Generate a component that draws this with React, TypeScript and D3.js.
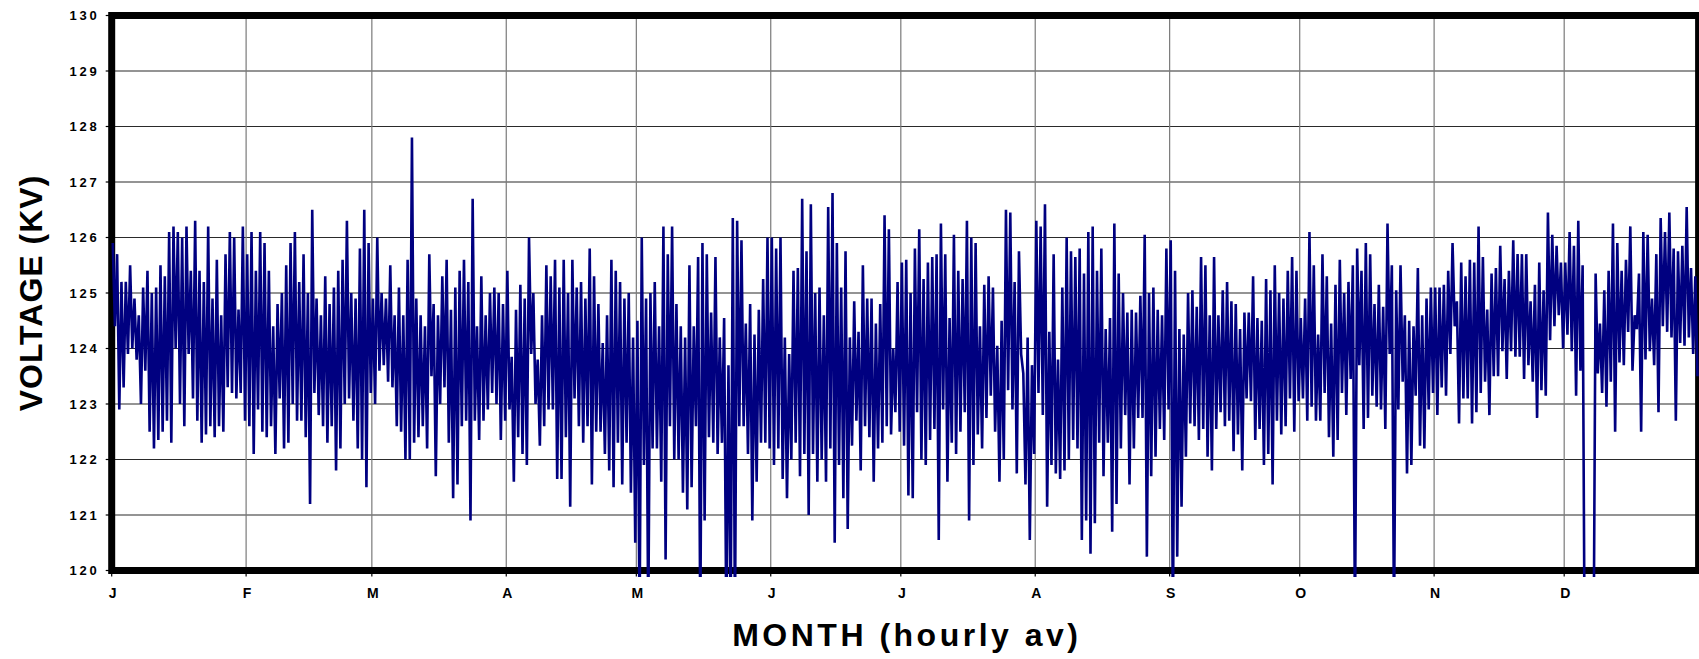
import * as d3 from "d3";
import React, { Component } from "react";

const months = ["J", "F", "M", "A", "M", "J", "J", "A", "S", "O", "N", "D"];
const yTicks = [120, 121, 122, 123, 124, 125, 126, 127, 128, 129, 130];

// daily high / low of the hourly averages (kV)
const janHi = [125.9, 125.7, 125.2, 125.2, 125.5, 124.9, 124.6, 125.1, 125.4, 125.0, 125.1, 125.5, 125.3, 126.1, 126.2, 126.1, 126.0, 126.2, 125.4, 126.3, 125.4, 125.2, 126.2, 124.9, 125.6, 124.6, 125.7, 126.1, 126.0, 124.7, 126.2];
const janLo = [124.4, 122.9, 123.3, 123.9, 124.0, 123.8, 123.0, 123.6, 122.5, 122.2, 122.35, 122.5, 122.7, 122.3, 124.0, 123.0, 122.6, 123.9, 123.1, 122.7, 122.3, 122.45, 122.6, 122.4, 122.6, 122.5, 123.3, 123.2, 123.1, 123.2, 122.7];
const febHi = [125.7, 126.1, 125.4, 126.1, 125.9, 125.4, 124.4, 124.8, 125.0, 125.5, 125.9, 126.1, 125.2, 125.7, 125.0, 126.5, 124.9, 124.6, 125.3, 124.8, 125.1, 125.4, 125.6, 126.3, 125.0, 124.9, 125.8, 126.5, 125.9];
const febLo = [122.6, 122.1, 122.9, 122.5, 122.4, 122.6, 122.1, 123.1, 122.2, 122.3, 123.0, 122.7, 122.7, 122.4, 121.2, 123.2, 122.8, 122.6, 122.3, 122.6, 121.8, 122.2, 123.0, 123.1, 122.7, 122.2, 122.0, 121.5, 123.2];
const marHi = [124.9, 126.0, 125.0, 124.9, 125.5, 124.6, 125.1, 124.6, 125.6, 127.8, 124.9, 124.6, 124.4, 125.7, 124.8, 124.6, 125.3, 125.6, 124.7, 125.1, 125.4, 125.6, 125.2, 126.7, 124.4, 125.3, 124.6, 125.0, 125.1, 125.0, 124.8];
const marLo = [123.0, 123.6, 123.7, 123.4, 123.3, 122.6, 122.5, 122.0, 122.0, 122.3, 122.4, 122.6, 122.2, 123.5, 121.7, 123.0, 123.3, 122.3, 121.3, 121.55, 122.6, 122.7, 120.9, 122.7, 122.35, 122.7, 122.9, 123.2, 123.0, 122.35, 122.7];
const aprHi = [125.4, 123.85, 124.7, 125.15, 124.9, 126.0, 125.0, 123.8, 124.6, 125.5, 125.3, 125.6, 125.1, 125.6, 125.0, 125.6, 125.1, 125.2, 124.9, 125.8, 125.3, 124.8, 124.1, 124.6, 125.6, 125.4, 125.2, 124.9, 125.0, 124.2];
const aprLo = [122.9, 121.6, 122.4, 122.1, 121.9, 123.9, 123.0, 122.25, 122.6, 122.9, 122.9, 121.65, 121.65, 122.4, 121.15, 123.1, 122.6, 122.3, 122.6, 121.55, 122.5, 122.5, 122.1, 121.8, 121.5, 122.3, 121.55, 122.3, 121.4, 120.5];
const mayHi = [124.5, 126.0, 124.9, 125.0, 125.2, 124.4, 126.2, 125.7, 126.2, 124.8, 124.4, 124.2, 125.5, 124.4, 125.65, 125.9, 125.7, 124.65, 125.65, 124.2, 124.55, 123.7, 126.35, 126.3, 125.95, 124.45, 124.8, 124.25, 124.7, 125.25, 126.0];
const mayLo = [119.0, 121.9, 119.0, 122.2, 122.2, 121.6, 120.2, 122.6, 122.0, 122.0, 121.4, 121.1, 121.5, 122.6, 119.0, 120.9, 122.4, 122.3, 122.1, 122.3, 119.0, 119.0, 119.0, 122.6, 122.6, 122.1, 120.9, 121.6, 122.3, 122.3, 122.2];
const junHi = [126.0, 125.8, 126.0, 124.2, 123.9, 125.4, 125.45, 126.7, 125.75, 126.6, 125.0, 125.1, 124.6, 126.55, 126.8, 125.9, 125.1, 125.75, 124.2, 124.85, 124.3, 125.5, 124.9, 124.9, 124.45, 124.8, 126.4, 126.15, 124.0, 125.2];
const junLo = [121.9, 122.2, 121.65, 121.3, 122.0, 122.3, 121.7, 122.1, 121.0, 122.1, 121.6, 122.0, 121.6, 122.2, 120.5, 121.9, 121.3, 120.75, 122.25, 122.7, 121.8, 122.6, 122.4, 121.6, 122.2, 122.3, 122.6, 122.45, 122.85, 122.5];
const julHi = [125.55, 125.6, 125.0, 125.8, 126.15, 125.25, 125.55, 125.65, 125.7, 126.25, 125.7, 124.55, 126.05, 125.4, 125.25, 126.3, 126.0, 125.9, 124.4, 125.15, 125.3, 125.1, 124.05, 124.5, 126.5, 126.45, 125.2, 125.75, 123.55, 124.2, 123.7];
const julLo = [122.25, 121.35, 121.3, 122.85, 122.0, 121.9, 122.35, 122.55, 120.55, 122.9, 121.6, 122.3, 122.1, 122.5, 122.85, 120.9, 121.9, 122.45, 122.2, 122.75, 123.15, 122.5, 121.6, 122.0, 123.25, 122.9, 121.75, 123.9, 121.55, 120.55, 122.1];
const augHi = [126.3, 126.2, 126.6, 124.3, 125.7, 123.8, 125.1, 126.0, 125.75, 125.65, 125.8, 125.35, 126.1, 126.2, 125.4, 125.8, 124.35, 124.55, 126.25, 125.35, 125.0, 124.65, 124.7, 124.65, 124.95, 126.05, 125.0, 125.1, 124.7, 124.6, 125.8];
const augLo = [123.2, 122.8, 121.15, 121.9, 121.75, 121.65, 121.8, 122.0, 122.35, 122.2, 120.55, 120.9, 120.3, 120.85, 122.3, 121.7, 122.3, 120.7, 121.2, 122.2, 122.8, 121.55, 122.2, 122.75, 122.75, 120.25, 121.7, 122.05, 122.55, 122.35, 122.9];
const sepHi = [125.95, 125.4, 124.35, 124.25, 125.0, 125.05, 124.75, 125.65, 125.5, 124.6, 125.65, 124.6, 125.05, 125.2, 124.85, 124.8, 124.35, 124.65, 124.65, 125.3, 124.55, 124.5, 125.25, 125.05, 125.5, 125.0, 124.9, 125.4, 125.65, 125.4];
const sepLo = [119.0, 120.25, 121.15, 122.05, 122.65, 122.6, 122.35, 122.55, 122.05, 121.8, 122.55, 122.85, 122.6, 122.7, 122.15, 122.45, 121.8, 123.1, 123.05, 122.35, 122.55, 121.9, 122.1, 121.55, 122.7, 122.45, 122.6, 123.1, 122.5, 123.05];
const octHi = [124.55, 124.9, 126.1, 125.5, 124.25, 125.7, 125.3, 124.45, 125.15, 125.6, 125.0, 125.2, 125.5, 125.8, 125.4, 125.9, 125.7, 124.8, 125.15, 124.75, 126.25, 125.5, 125.05, 125.5, 124.6, 124.5, 124.4, 125.45, 124.6, 124.9, 125.1];
const octLo = [123.1, 122.7, 122.95, 122.7, 122.7, 123.2, 122.4, 122.05, 122.35, 123.2, 122.8, 123.45, 119.0, 123.7, 122.55, 122.75, 123.15, 122.95, 122.9, 122.55, 123.9, 119.0, 122.9, 123.4, 121.75, 121.9, 123.15, 122.25, 122.2, 122.9, 123.2];
const novHi = [125.1, 125.1, 125.15, 125.4, 125.9, 124.85, 125.55, 125.3, 125.6, 125.55, 126.2, 125.65, 124.7, 125.35, 125.45, 125.85, 125.25, 125.4, 125.95, 125.7, 125.7, 125.7, 124.85, 125.15, 125.55, 125.05, 126.45, 126.05, 125.85, 125.55];
const novLo = [122.8, 123.3, 123.15, 123.9, 124.4, 122.65, 123.1, 123.1, 122.65, 122.85, 123.2, 123.4, 122.8, 123.5, 123.5, 123.95, 123.45, 123.95, 123.85, 123.85, 123.45, 123.7, 123.4, 122.75, 123.25, 123.15, 124.15, 124.4, 124.6, 124.0];
const decHi = [125.55, 126.1, 125.85, 126.3, 125.5, 118.0, 118.0, 125.35, 124.45, 125.05, 125.4, 126.25, 125.9, 125.4, 125.6, 126.2, 124.6, 125.35, 126.1, 126.05, 124.9, 125.7, 126.35, 126.1, 126.45, 125.8, 125.75, 125.85, 126.55, 125.45, 125.3];
const decLo = [124.25, 123.95, 123.15, 123.6, 118.0, 118.0, 118.0, 123.55, 123.2, 122.95, 123.4, 122.5, 123.75, 123.7, 124.3, 123.6, 124.35, 122.5, 123.8, 123.95, 123.7, 122.85, 124.4, 124.3, 124.2, 122.7, 124.1, 124.05, 124.2, 123.9, 123.5];

const monthly = [
  [janHi, janLo], [febHi, febLo], [marHi, marLo], [aprHi, aprLo],
  [mayHi, mayLo], [junHi, junLo], [julHi, julLo], [augHi, augLo],
  [sepHi, sepLo], [octHi, octLo], [novHi, novLo], [decHi, decLo],
];

const FONT = "'Liberation Sans', Arial, Helvetica, sans-serif";

export default class App extends Component {
  chartRef: any;

  componentDidMount(): void {
    const width = 1699;
    const height = 659;
    const left = 111.7;
    const right = 1698.6;
    const top = 15.5;
    const bottom = 570.5;
    const DAY = 864e5;

    const svg = d3
      .select(this.chartRef)
      .attr("width", width)
      .attr("height", height)
      .attr("viewBox", `0 0 ${width} ${height}`);

    const start = new Date(Date.UTC(2000, 0, 1));
    const end = new Date(Date.UTC(2001, 0, 1));
    const x = d3.scaleUtc().domain([start, end]).range([left, right]);
    const y = d3.scaleLinear().domain([120, 130]).range([bottom, top]);

    const data: { t: Date; v: number }[] = [];
    monthly.forEach(([hi, lo], m) => {
      const m0 = Date.UTC(2000, m, 1);
      hi.forEach((h, i) => {
        data.push({ t: new Date(m0 + (i + 0.25) * DAY), v: h });
        data.push({ t: new Date(m0 + (i + 0.75) * DAY), v: lo[i] });
      });
    });

    const monthStarts = d3.utcMonths(start, end);

    // grid
    svg
      .append("g")
      .selectAll("line")
      .data(yTicks.slice(1, -1))
      .enter()
      .append("line")
      .attr("x1", left)
      .attr("x2", right)
      .attr("y1", (d) => y(d))
      .attr("y2", (d) => y(d))
      .attr("stroke", "#2a2a2a")
      .attr("stroke-width", 1.2);

    svg
      .append("g")
      .selectAll("line")
      .data(monthStarts.slice(1))
      .enter()
      .append("line")
      .attr("x1", (d) => x(d))
      .attr("x2", (d) => x(d))
      .attr("y1", top)
      .attr("y2", bottom)
      .attr("stroke", "#7a7a7a")
      .attr("stroke-width", 1.2);

    // tick marks
    svg
      .append("g")
      .selectAll("line")
      .data(yTicks)
      .enter()
      .append("line")
      .attr("x1", left - 6)
      .attr("x2", left)
      .attr("y1", (d) => y(d))
      .attr("y2", (d) => y(d))
      .attr("stroke", "#000")
      .attr("stroke-width", 1.2);

    svg
      .append("g")
      .selectAll("line")
      .data(monthStarts)
      .enter()
      .append("line")
      .attr("x1", (d) => x(d))
      .attr("x2", (d) => x(d))
      .attr("y1", bottom)
      .attr("y2", bottom + 6)
      .attr("stroke", "#000")
      .attr("stroke-width", 1.2);

    // frame
    svg
      .append("rect")
      .attr("x", left)
      .attr("y", top)
      .attr("width", right - left)
      .attr("height", bottom - top)
      .attr("fill", "none")
      .attr("stroke", "#000")
      .attr("stroke-width", 7);

    // series
    svg
      .append("clipPath")
      .attr("id", "plot-clip")
      .append("rect")
      .attr("x", left - 2)
      .attr("y", top)
      .attr("width", right - left + 4)
      .attr("height", bottom - top + 6.5);

    const line = d3
      .line<{ t: Date; v: number }>()
      .x((d) => x(d.t))
      .y((d) => y(d.v));

    svg
      .append("path")
      .datum(data)
      .attr("clip-path", "url(#plot-clip)")
      .attr("d", line)
      .attr("fill", "none")
      .attr("stroke", "#000080")
      .attr("stroke-width", 2.6)
      .attr("stroke-linejoin", "bevel");

    // axis labels
    svg
      .append("g")
      .selectAll("text")
      .data(yTicks)
      .enter()
      .append("text")
      .text((d) => d)
      .attr("x", 99.5)
      .attr("y", (d) => y(d))
      .attr("dy", "0.36em")
      .attr("text-anchor", "end")
      .attr("font-family", FONT)
      .attr("font-weight", 700)
      .attr("font-size", 13)
      .attr("letter-spacing", 2.8)
      .attr("fill", "#000");

    svg
      .append("g")
      .selectAll("text")
      .data(monthStarts)
      .enter()
      .append("text")
      .text((d, i) => months[i])
      .attr("x", (d) => x(d) + 1)
      .attr("y", 598)
      .attr("text-anchor", "middle")
      .attr("font-family", FONT)
      .attr("font-weight", 700)
      .attr("font-size", 14)
      .attr("fill", "#000");

    svg
      .append("text")
      .text("MONTH (hourly av)")
      .attr("x", (left + right) / 2 + 1.7)
      .attr("y", 646)
      .attr("text-anchor", "middle")
      .attr("font-family", FONT)
      .attr("font-weight", 700)
      .attr("font-size", 32)
      .attr("letter-spacing", 3.5)
      .attr("fill", "#000");

    svg
      .append("text")
      .text("VOLTAGE (KV)")
      .attr("transform", `translate(42, ${(top + bottom) / 2}) rotate(-90)`)
      .attr("text-anchor", "middle")
      .attr("font-family", FONT)
      .attr("font-weight", 700)
      .attr("font-size", 32)
      .attr("letter-spacing", 1)
      .attr("fill", "#000");
  }

  render() {
    return (
      <div>
        <svg
          ref={(r) => (this.chartRef = r)}
          style={{ position: "absolute", left: 0, top: 0, background: "#fff" }}
        ></svg>
      </div>
    );
  }
}
